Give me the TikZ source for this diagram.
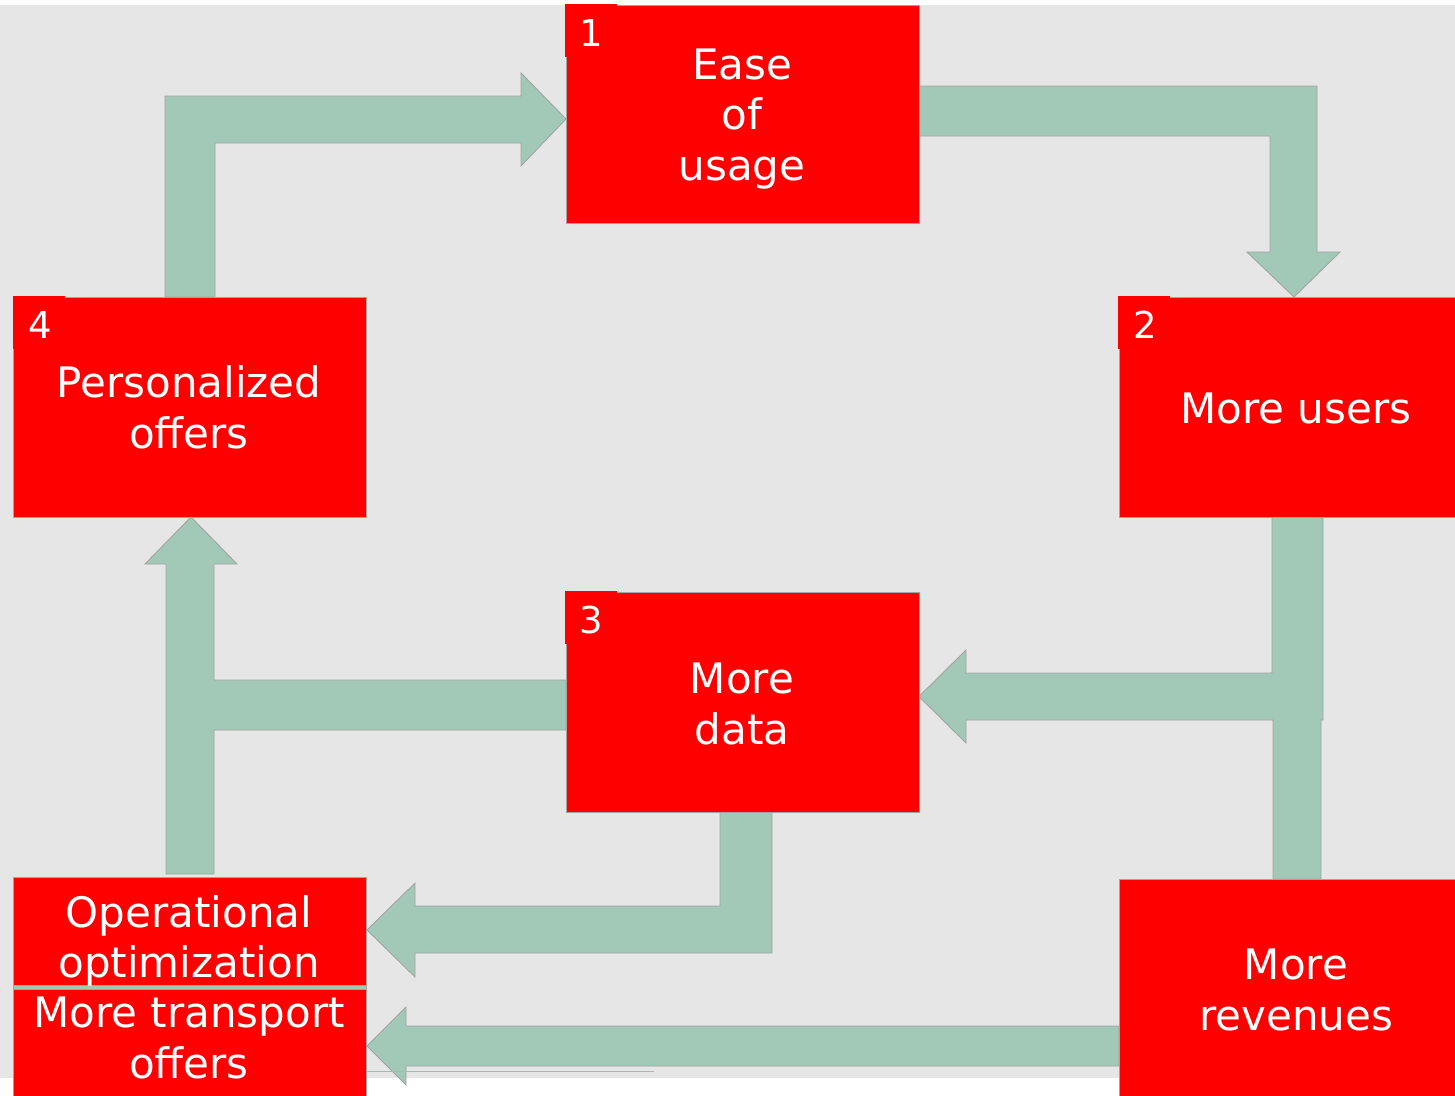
\documentclass[tikz,border=0pt]{standalone}
\usepackage{fontspec}
\setmainfont{DejaVu Sans}
\definecolor{boxred}{HTML}{FF0000}
\definecolor{flowgreen}{HTML}{A2C9B8}
\definecolor{edgegray}{HTML}{A3A3A3}
\definecolor{canvas}{HTML}{E6E6E6}
\tikzset{
  stage/.style={draw=edgegray, line width=0.9pt, fill=boxred, inner sep=0pt, outer sep=0pt},
  tag/.style={fill=boxred, inner sep=0pt, outer sep=0pt, minimum width=52pt, minimum height=53pt, anchor=north west},
  caption/.style={text=white, font=\fontsize{42}{50.5}\selectfont, align=center, anchor=base, inner sep=0pt},
  numeral/.style={text=white, font=\fontsize{37}{44}\selectfont, anchor=base, inner sep=0pt},
  flow/.style={fill=flowgreen, draw=edgegray, line width=0.9pt, line join=miter},
}
\begin{document}
\begin{tikzpicture}[x=1pt, y=-1pt]
\useasboundingbox (0,0) rectangle (1455,1095);
% grey canvas
\fill[canvas] (0,5) rectangle (1455,1078);

% block arrows
% 4 -> 1
\path[flow] (165,297) -- (165,96) -- (521,96) -- (521,73) -- (566,119)
  -- (521,166) -- (521,143) -- (215,143) -- (215,297) -- cycle;
% 1 -> 2
\path[flow] (919,86) -- (1317,86) -- (1317,252) -- (1340,252) -- (1294,297)
  -- (1247,252) -- (1270,252) -- (1270,136) -- (919,136) -- cycle;
% 2 -> 3, joined to revenues
\path[flow] (1272,517) -- (1323,517) -- (1323,720) -- (1321,720) -- (1321,879)
  -- (1273,879) -- (1273,720) -- (966,720) -- (966,743) -- (919,696.5)
  -- (966,650) -- (966,673) -- (1272,673) -- cycle;
% 3 -> 4, joined to operational optimization
\path[flow] (166,874) -- (166,564) -- (145,564) -- (191,517) -- (237,564)
  -- (214,564) -- (214,680) -- (566,680) -- (566,730) -- (214,730)
  -- (214,874) -- cycle;
% 3 -> operational optimization
\path[flow] (720,812) -- (772,812) -- (772,953) -- (415,953) -- (415,977)
  -- (367,930) -- (415,883) -- (415,906) -- (720,906) -- cycle;
% revenues -> more transport offers
\path[flow] (1119,1026) -- (1119,1066) -- (406,1066) -- (406,1085)
  -- (367,1046) -- (406,1007) -- (406,1026) -- cycle;
\draw[flowgreen!85!gray, line width=1pt] (366,1071) -- (654,1071);

% stages
\node[stage, minimum width=353pt, minimum height=218pt] (ease) at (742.5,114) {};
\node[stage, minimum width=338pt, minimum height=220pt] (users) at (1288,407) {};
\node[stage, minimum width=353pt, minimum height=220pt] (data) at (742.5,702) {};
\node[stage, minimum width=353pt, minimum height=220pt] (offers) at (189.5,407) {};
\node[stage, minimum width=353pt, minimum height=108pt] (optim) at (189.5,931) {};
\node[stage, minimum width=353pt, minimum height=108pt] (transport) at (189.5,1043) {};
\node[stage, minimum width=338pt, minimum height=218pt] (revenue) at (1288,988) {};
\path[flow] (13,985) rectangle (366,989);

% step numbers
\node[tag] (t1) at (565,4) {};
\node[tag] (t2) at (1118,296) {};
\node[tag] (t3) at (565,591) {};
\node[tag] (t4) at (13,296) {};
\node[numeral] (n1) at (591,46) {1};
\node[numeral] (n2) at (1145,338) {2};
\node[numeral] (n3) at (591,633) {3};
\node[numeral] (n4) at (40,338) {4};

% captions (base anchor sits on the last line)
\node[caption] (c1) at (742,180) {Ease\\of\\usage};
\node[caption] (c2) at (1296,423) {More users};
\node[caption] (c3) at (742,744) {More\\data};
\node[caption] (c4) at (189,448) {Personalized\\offers};
\node[caption] (c5) at (189,977.5) {Operational\\optimization};
\node[caption] (c6) at (189,1078) {More transport\\offers};
\node[caption] (c7) at (1296,1030) {More\\revenues};
\end{tikzpicture}
\end{document}
